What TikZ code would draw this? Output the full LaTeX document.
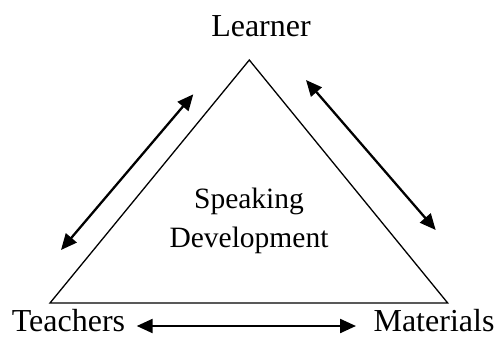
\documentclass[tikz,border=0pt]{standalone}
\usepackage{fontspec}
\setmainfont{Liberation Serif}
\usetikzlibrary{arrows.meta}
\begin{document}
\begin{tikzpicture}[x=1pt,y=-1pt,
  lbl/.style={inner sep=0pt,anchor=base,font=\fontsize{32}{32}\selectfont},
  inlbl/.style={inner sep=0pt,anchor=base,font=\fontsize{29.5}{29.5}\selectfont},
  tri/.style={line width=1.3pt,line join=miter},
  rel/.style={line width=2.3pt,{Triangle[length=16pt,width=14pt]}-{Triangle[length=16pt,width=14pt]}}]
\useasboundingbox (0,0) rectangle (497,338);
\coordinate (A) at (249.3,60);
\coordinate (B) at (50,303);
\coordinate (C) at (447.7,303);
\draw[tri] (A) -- (B) -- (C) -- cycle;
\node[lbl] (learner) at (261,36) {Learner};
\node[lbl] (teachers) at (68.5,331) {Teachers};
\node[lbl] (materials) at (434,331) {Materials};
\node[inlbl] (sp) at (249,208) {Speaking};
\node[inlbl] (dev) at (249,247) {Development};
\coordinate (l1) at (61,250);
\coordinate (l2) at (193.3,94.3);
\coordinate (r1) at (306,80);
\coordinate (r2) at (435.7,230);
\coordinate (b1) at (136.7,326);
\coordinate (b2) at (356,326);
\draw[rel] (l1) -- (l2);
\draw[rel] (r1) -- (r2);
\draw[rel] (b1) -- (b2);
\end{tikzpicture}
\end{document}
